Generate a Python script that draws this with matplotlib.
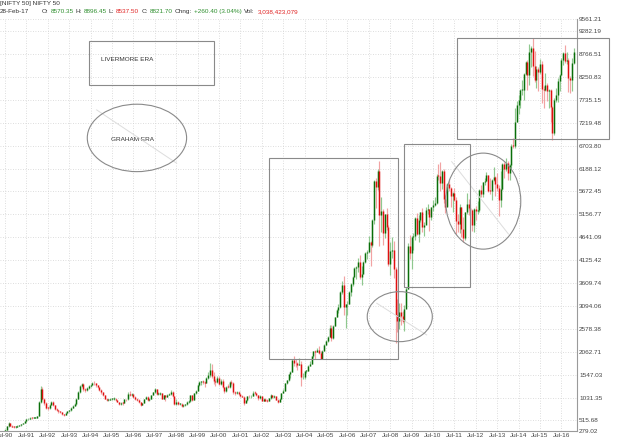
import numpy as np
import pandas as pd
import matplotlib
matplotlib.use('Agg')
import matplotlib.pyplot as plt
from matplotlib.patches import Rectangle, Ellipse

plt.rcParams['font.family'] = ['Liberation Sans', 'DejaVu Sans']

# monthly NIFTY 50 candles, Jul-1990 .. Feb-2017
months = pd.period_range('1990-07', '2017-02', freq='M')

closes = [
    312, 382, 452, 402, 378, 366,                                        # 1990
    372, 398, 405, 428, 452, 498, 540, 558, 575, 566, 572, 580,          # 1991
    615, 935, 1235, 1005, 915, 805, 790, 870, 935, 860, 780, 742,        # 1992
    720, 700, 655, 640, 690, 720, 745, 800, 850, 880, 1010, 1150,        # 1993
    1290, 1345, 1215, 1195, 1245, 1290, 1320, 1365, 1350, 1305, 1265, 1205,
    1160, 1090, 1010, 975, 985, 995, 1000, 1010, 975, 935, 888, 910,     # 1995
    905, 995, 990, 1120, 1080, 1110, 1040, 1010, 975, 925, 875, 905,
    1000, 1050, 970, 1000, 1090, 1150, 1220, 1120, 1120, 1130, 1010, 1080,
    1050, 1100, 1115, 1155, 1065, 890, 935, 880, 895, 840, 860, 885,     # 1998
    935, 950, 1080, 985, 1130, 1190, 1310, 1380, 1390, 1380, 1365, 1480,
    1546, 1655, 1528, 1406, 1381, 1471, 1332, 1394, 1271, 1172, 1268, 1263,
    1372, 1352, 1148, 1126, 1167, 1107, 1073, 1053, 914, 971, 1068, 1059,
    1076, 1142, 1129, 1084, 1028, 1058, 959, 1010, 964, 952, 1020, 1094,
    1042, 1063, 978, 934, 1006, 1134, 1185, 1356, 1418, 1556, 1615, 1880,
    1810, 1800, 1772, 1796, 1484, 1505, 1632, 1632, 1745, 1786, 1958, 2081,
    2057, 2103, 2036, 1902, 2087, 2221, 2312, 2385, 2601, 2371, 2652, 2837,
    3001, 3075, 3403, 3558, 3071, 3128, 3143, 3414, 3588, 3745, 3955, 3966,
    4083, 3745, 3822, 4087, 4296, 4318, 4529, 4464, 5021, 5901, 5762, 6139,
    5137, 5224, 4735, 5166, 4870, 4041, 4333, 4360, 3921, 2885, 2755, 2959,
    2874, 2763, 3021, 3474, 4449, 4291, 4636, 4662, 5084, 4712, 5033, 5201,
    4882, 4922, 5249, 5278, 5087, 5313, 5368, 5402, 6030, 6018, 5863, 6135,
    5506, 5333, 5834, 5750, 5560, 5647, 5482, 5001, 4943, 5327, 4832, 4624,
    5199, 5385, 5296, 5248, 4924, 5279, 5229, 5259, 5703, 5620, 5880, 5905,
    6035, 5693, 5683, 5930, 5986, 5842, 5742, 5472, 5735, 6299, 6176, 6304,
    6090, 6277, 6704, 6696, 7230, 7611, 7721, 7954, 7965, 8322, 8588, 8283,
    8809, 8902, 8491, 8182, 8434, 8369, 8533, 7971, 7949, 8066, 7935, 7946,
    7564, 6987, 7738, 7850, 8160, 8288, 8639, 8786, 8611, 8626, 8224, 8186,
    8561, 8821.70,                                                       # 2017
]

highs = [
    330, 395, 478, 455, 410, 392,
    385, 405, 418, 435, 460, 505, 548, 570, 590, 582, 585, 592,
    625, 960, 1290, 1260, 1030, 925, 830, 890, 965, 945, 870, 790,
    760, 735, 710, 665, 700, 735, 760, 815, 870, 900, 1030, 1170,
    1320, 1370, 1360, 1250, 1260, 1310, 1335, 1385, 1395, 1360, 1310, 1270,
    1215, 1165, 1100, 1020, 1000, 1015, 1025, 1040, 1020, 985, 940, 925,
    925, 1010, 1010, 1150, 1175, 1125, 1115, 1060, 1025, 990, 930, 915,
    1010, 1070, 1060, 1015, 1100, 1160, 1245, 1225, 1150, 1150, 1140, 1095,
    1095, 1115, 1130, 1210, 1175, 1075, 990, 945, 920, 905, 880, 895,
    950, 985, 1095, 1095, 1140, 1210, 1335, 1400, 1415, 1430, 1395, 1490,
    1600, 1818, 1780, 1610, 1450, 1520, 1510, 1440, 1445, 1275, 1295, 1335,
    1395, 1425, 1375, 1180, 1185, 1170, 1115, 1090, 1065, 980, 1075, 1080,
    1090, 1170, 1175, 1135, 1090, 1080, 1068, 1015, 1020, 990, 1030, 1110,
    1100, 1090, 1075, 995, 1015, 1140, 1215, 1360, 1430, 1565, 1625, 1885,
    1960, 1900, 1830, 1920, 1850, 1575, 1640, 1660, 1755, 1850, 1965, 2090,
    2110, 2140, 2185, 2070, 2100, 2230, 2330, 2415, 2670, 2665, 2665, 2845,
    3020, 3130, 3420, 3650, 3775, 3140, 3200, 3420, 3600, 3760, 3960, 4000,
    4170, 4250, 3990, 4100, 4300, 4360, 4660, 4550, 5060, 5920, 5980, 6185,
    6357, 5545, 5270, 5170, 5300, 4910, 4540, 4650, 4560, 3970, 3240, 3150,
    3150, 2975, 3125, 3520, 4510, 4695, 4670, 4745, 5090, 5180, 5140, 5220,
    5310, 4990, 5330, 5400, 5280, 5320, 5480, 5550, 6075, 6285, 6340, 6150,
    6180, 5600, 5870, 5945, 5775, 5660, 5740, 5550, 5170, 5400, 5330, 5100,
    5220, 5630, 5500, 5380, 5280, 5290, 5350, 5450, 5735, 5815, 5885, 5965,
    6110, 6050, 5970, 5960, 6230, 6010, 6095, 5810, 6140, 6310, 6340, 6415,
    6360, 6280, 6730, 6870, 7560, 7700, 7840, 7970, 8180, 8330, 8620, 8625,
    8995, 8940, 9119, 8845, 8490, 8470, 8655, 8620, 8055, 8340, 8115, 7980,
    7973, 7600, 7780, 7990, 8215, 8310, 8675, 8820, 8968, 8806, 8670, 8275,
    8672, 8896.45,
]

lows = [
    279, 305, 375, 390, 368, 350,
    350, 365, 390, 400, 425, 448, 492, 535, 550, 555, 560, 562,
    572, 610, 920, 980, 870, 770, 760, 780, 860, 840, 760, 720,
    690, 680, 630, 615, 635, 680, 710, 740, 790, 840, 870, 1000,
    1145, 1270, 1190, 1150, 1180, 1235, 1275, 1305, 1320, 1280, 1240, 1180,
    1110, 1060, 990, 950, 955, 970, 980, 985, 965, 925, 870, 870,
    860, 900, 960, 985, 1060, 1070, 1020, 985, 955, 910, 850, 860,
    900, 990, 950, 950, 990, 1080, 1140, 1090, 1080, 1095, 990, 1000,
    960, 1045, 1080, 1100, 1040, 870, 875, 855, 865, 820, 810, 840,
    860, 905, 940, 960, 970, 1115, 1180, 1300, 1320, 1330, 1280, 1355,
    1440, 1500, 1480, 1335, 1300, 1355, 1310, 1320, 1250, 1125, 1165, 1240,
    1250, 1310, 1105, 1080, 1115, 1085, 1050, 1040, 854, 910, 965, 1030,
    1030, 1060, 1110, 1075, 985, 1005, 950, 945, 955, 930, 945, 1010,
    1030, 1025, 970, 920, 930, 1005, 1125, 1180, 1330, 1412, 1480, 1610,
    1740, 1730, 1660, 1760, 1290, 1440, 1450, 1590, 1630, 1740, 1780, 1920,
    1900, 2050, 2020, 1895, 1900, 2080, 2210, 2280, 2390, 2310, 2360, 2640,
    2835, 2935, 3050, 3370, 2880, 2600, 2880, 3130, 3320, 3550, 3740, 3690,
    3850, 3690, 3555, 3810, 4060, 4150, 4300, 4000, 4420, 4950, 5300, 5700,
    4450, 4750, 4470, 4630, 4810, 3990, 3790, 4170, 3715, 2252, 2500, 2570,
    2660, 2700, 2540, 3060, 3470, 4140, 3920, 4350, 4570, 4690, 4540, 4980,
    4770, 4680, 4935, 5160, 4790, 5040, 5225, 5350, 5400, 5940, 5690, 5720,
    5420, 5180, 5350, 5690, 5330, 5200, 5450, 4720, 4760, 4730, 4640, 4530,
    4590, 5160, 5135, 5155, 4790, 4770, 5035, 5165, 5215, 5550, 5550, 5825,
    5900, 5670, 5605, 5480, 5910, 5570, 5675, 5120, 5320, 5700, 5970, 6130,
    5935, 5935, 6210, 6640, 6640, 7240, 7420, 7540, 7840, 7725, 8290, 7960,
    8065, 8470, 8270, 8145, 7998, 7940, 8315, 7668, 7540, 7930, 7715, 7550,
    7240, 6825, 6940, 7680, 7680, 7930, 8290, 8520, 8555, 8550, 7916, 7890,
    7937, 8537.50,
]

first_open = 279.02

y_ticks = [279.02, 515.68, 1031.35, 1547.03, 2062.71, 2578.38, 3094.06,
           3609.74, 4125.42, 4641.09, 5156.77, 5672.45, 6188.12, 6703.80,
           7219.48, 7735.15, 8250.83, 8766.51, 9282.19, 9561.21]

assert len(closes) == len(highs) == len(lows) == len(months)

c = np.array(closes, dtype=float)
h = np.array(highs, dtype=float)
l = np.array(lows, dtype=float)
o = np.concatenate([[first_open], c[:-1]])
o[-1] = 8570.35
x = np.arange(len(months))
up = c >= o

fig = plt.figure(figsize=(6.4, 4.4), dpi=100)
ax = fig.add_axes([0.0, 0.0205, 0.9016, 0.937])

# grid
jul = [i for i, p in enumerate(months) if p.month == 7]
jul_labels = [p.strftime('Jul-%y') for p in months if p.month == 7]
for yt in y_ticks[1:]:
    ax.axhline(yt, color='#d2d2d2', lw=0.6, ls=(0, (1, 2)), zorder=0)
for xi in jul:
    ax.axvline(xi, color='#d2d2d2', lw=0.6, ls=(0, (1, 2)), zorder=0)

# candles: pale shadow, dark body
ax.vlines(x[up], l[up], h[up], color='#8fc88f', lw=0.85, zorder=2)
ax.vlines(x[~up], l[~up], h[~up], color='#f2a3a3', lw=0.85, zorder=2)
bot = np.minimum(o, c)
top = np.maximum(bot + 18, np.maximum(o, c))
ax.vlines(x[up], bot[up], top[up], color='#0a6e0a', lw=1.05, zorder=3)
ax.vlines(x[~up], bot[~up], top[~up], color='#e01010', lw=1.05, zorder=3)

ax.set_xlim(-2.8, 320.8)
ax.set_ylim(279.02, 9561.21)

ax.set_xticks(jul)
ax.set_xticklabels(jul_labels)
ax.set_yticks(y_ticks)
ax.set_yticklabels(['%.2f' % v for v in y_ticks])
ax.yaxis.tick_right()
ax.tick_params(axis='both', length=0, labelsize=4.6, colors='#444444')
ax.tick_params(axis='x', pad=1.5)
ax.tick_params(axis='y', pad=1.5)
for lab in ax.get_yticklabels():
    lab.set_horizontalalignment('left')

for s in ['left', 'top']:
    ax.spines[s].set_visible(False)
for s in ['right', 'bottom']:
    ax.spines[s].set_color('#9a9a9a')
    ax.spines[s].set_linewidth(0.8)

# annotations drawn on the chart
box_kw = dict(fill=False, edgecolor='#8a8a8a', lw=0.8, zorder=5, clip_on=False)
ax.add_patch(Rectangle((47, 8071), 70, 998, **box_kw))
ax.text(53.8, 8650, 'LIVERMORE ERA', fontsize=4.6, color='#333333', va='center')
ax.add_patch(Ellipse((74, 6877), 55.7, 1518, **box_kw))
ax.plot([51.4, 96.3], [7508, 6307], color='#dddddd', lw=0.7, zorder=4)
ax.text(59.5, 6848, 'GRAHAM ERA', fontsize=4.6, color='#333333', va='center')

ax.add_patch(Rectangle((148.2, 1894), 72.4, 4526, **box_kw))
ax.add_patch(Ellipse((221.4, 2853), 36.5, 1126, **box_kw))
ax.plot([208.5, 236.5], [3155, 2441], color='#dddddd', lw=0.7, zorder=4)
ax.add_patch(Rectangle((223.8, 3515), 37, 3220, **box_kw))
ax.add_patch(Ellipse((268.2, 5454), 42.1, 2162, **box_kw))
ax.plot([250.5, 282.3], [6344, 4715], color='#dddddd', lw=0.7, zorder=4)
ax.add_patch(Rectangle((253.7, 6848), 85.1, 2274, **box_kw))

# header: pieces laid out left to right, never overlapping
green, red, dark = '#2f8f2f', '#e02424', '#333333'
fig.text(0, 1 - 4 / 440, '[NIFTY 50] NIFTY 50', fontsize=4.6, color=dark,
         va='center', ha='left')
pieces = [
    ('28-Feb-17', dark, 0), ('O:', dark, 41.7), ('8570.35', green, 48.3),
    ('H:', dark, 70), ('8896.45', green, 76), ('L:', dark, 106),
    ('8537.50', red, 111.7), ('C:', dark, 140), ('8821.70', green, 147),
    ('Chng:', dark, 167), ('+260.40 (3.04%)', green, 186.7),
    ('Vol:', dark, 243.3), ('3,038,423,079', red, 258),
]
renderer = fig.canvas.get_renderer()
cur = 0
for s, col, px in pieces:
    px = max(px, cur)
    t = fig.text(px / 640, 1 - 11.7 / 440, s, fontsize=4.6, color=col,
                 va='center', ha='left')
    cur = t.get_window_extent(renderer).x1 + 2

fig.savefig('out.png', dpi=100, facecolor='white')
